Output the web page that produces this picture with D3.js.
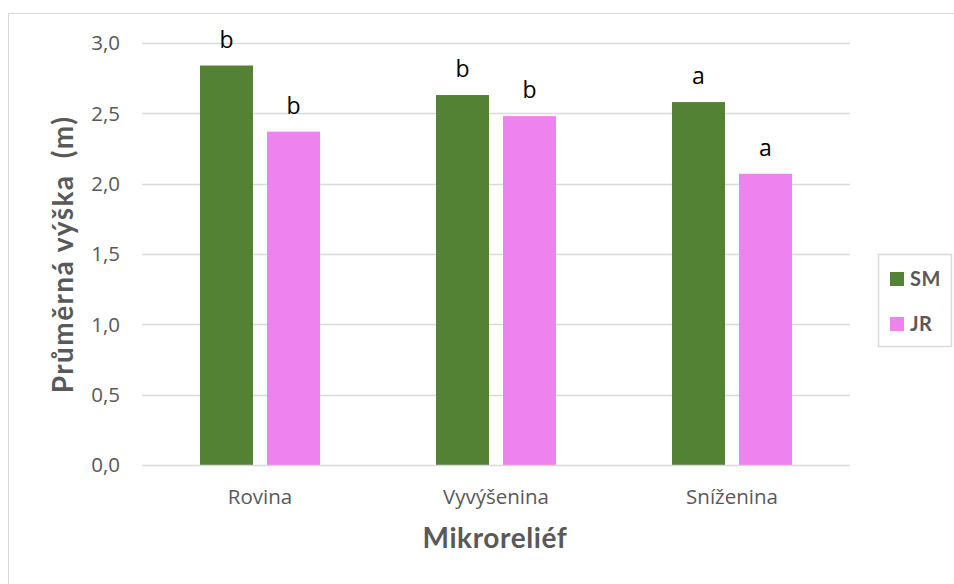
<!DOCTYPE html>
<html>
<head>
<meta charset="utf-8">
<script src="https://cdn.jsdelivr.net/npm/d3@7"></script>
<style>
  html, body { margin: 0; padding: 0; background: #fff; }
  svg { display: block; font-family: "Open Sans", Lato, sans-serif; }
</style>
</head>
<body>
<svg id="chart" width="954" height="584"></svg>
<script>
// Mean height by microrelief type
const categories = ["Rovina", "Vyvýšenina", "Sníženina"];
const seriesNames = ["SM", "JR"];
const smValues = [2.84, 2.63, 2.58];
const jrValues = [2.37, 2.48, 2.07];
const smLetters = ["b", "b", "a"];
const jrLetters = ["b", "b", "a"];
const yTicks = [0, 0.5, 1.0, 1.5, 2.0, 2.5, 3.0];
const colors = ["#548235", "#EE82EE"];

const series = [
  { name: seriesNames[0], values: smValues, letters: smLetters, color: colors[0] },
  { name: seriesNames[1], values: jrValues, letters: jrLetters, color: colors[1] }
];

const svg = d3.select("#chart");
const fmt = d => d.toFixed(1).replace(".", ",");
const titleFont = "Lato, 'Open Sans', sans-serif";

// chart frame
svg.append("rect")
  .attr("x", 8.5).attr("y", 13.5)
  .attr("width", 960).attr("height", 600)
  .attr("fill", "none").attr("stroke", "#d9d9d9");

const plot = { left: 142, right: 850, top: 43, bottom: 465 };

const x = d3.scaleBand().domain(categories).range([plot.left, plot.right]).padding(0);
const y = d3.scaleLinear().domain([0, 3]).range([plot.bottom, plot.top]);

const barW = 53, innerGap = 14;
const groupW = barW * 2 + innerGap;
const barX = (c, si) => x(c) + x.bandwidth() / 2 - groupW / 2 + si * (barW + innerGap);

// gridlines
svg.append("g").selectAll("line").data(yTicks.filter(t => t > 0)).join("line")
  .attr("x1", plot.left).attr("x2", plot.right)
  .attr("y1", d => Math.round(y(d)) + 0.5).attr("y2", d => Math.round(y(d)) + 0.5)
  .attr("stroke", "#d9d9d9").attr("stroke-width", 1.5);

// y tick labels
svg.append("g").selectAll("text").data(yTicks).join("text")
  .attr("x", 120).attr("y", d => y(d))
  .attr("dy", "0.36em")
  .attr("text-anchor", "end")
  .attr("font-size", 20.5).attr("fill", "#595959")
  .text(fmt);

// bars with significance letters
series.forEach((s, si) => {
  const g = svg.append("g");
  g.selectAll("rect").data(categories).join("rect")
    .attr("x", c => barX(c, si))
    .attr("y", (c, i) => y(s.values[i]))
    .attr("width", barW)
    .attr("height", (c, i) => y(0) - y(s.values[i]))
    .attr("fill", s.color);
  g.selectAll("text").data(categories).join("text")
    .attr("x", c => barX(c, si) + barW / 2)
    .attr("y", (c, i) => y(s.values[i]) - 18)
    .attr("text-anchor", "middle")
    .attr("font-size", 23).attr("fill", "#000")
    .text((c, i) => s.letters[i]);
});

// x axis line
svg.append("line")
  .attr("x1", plot.left).attr("x2", plot.right)
  .attr("y1", plot.bottom + 0.5).attr("y2", plot.bottom + 0.5)
  .attr("stroke", "#d9d9d9").attr("stroke-width", 1.5);

// category labels
svg.append("g").selectAll("text").data(categories).join("text")
  .attr("x", c => x(c) + x.bandwidth() / 2)
  .attr("y", 504)
  .attr("text-anchor", "middle")
  .attr("font-size", 20.5).attr("fill", "#595959")
  .text(c => c);

// axis titles
svg.append("text")
  .attr("x", 495).attr("y", 548)
  .attr("text-anchor", "middle")
  .style("font-family", titleFont)
  .attr("font-size", 28).attr("font-weight", "bold").attr("fill", "#595959")
  .attr("letter-spacing", 0.6)
  .text("Mikroreliéf");

svg.append("text")
  .attr("transform", "translate(73,254.5) rotate(-90)")
  .attr("text-anchor", "middle")
  .style("font-family", titleFont)
  .attr("font-size", 28).attr("font-weight", "bold").attr("fill", "#595959")
  .attr("letter-spacing", 1.4)
  .style("white-space", "pre")
  .text("Průměrná výška  (m)");

// legend
const lg = svg.append("g");
lg.append("rect")
  .attr("x", 878.5).attr("y", 254.5).attr("width", 73).attr("height", 92)
  .attr("fill", "#fff").attr("stroke", "#d9d9d9").attr("stroke-width", 1.5);
series.forEach((s, i) => {
  const cy = 279 + i * 45;
  lg.append("rect")
    .attr("x", 890).attr("y", cy - 7).attr("width", 14).attr("height", 14)
    .attr("fill", s.color);
  lg.append("text")
    .attr("x", 910).attr("y", cy).attr("dy", "0.36em")
    .style("font-family", titleFont)
    .attr("font-size", 20).attr("font-weight", "bold").attr("fill", "#595959")
    .attr("letter-spacing", 0.5)
    .text(s.name);
});
</script>
</body>
</html>
